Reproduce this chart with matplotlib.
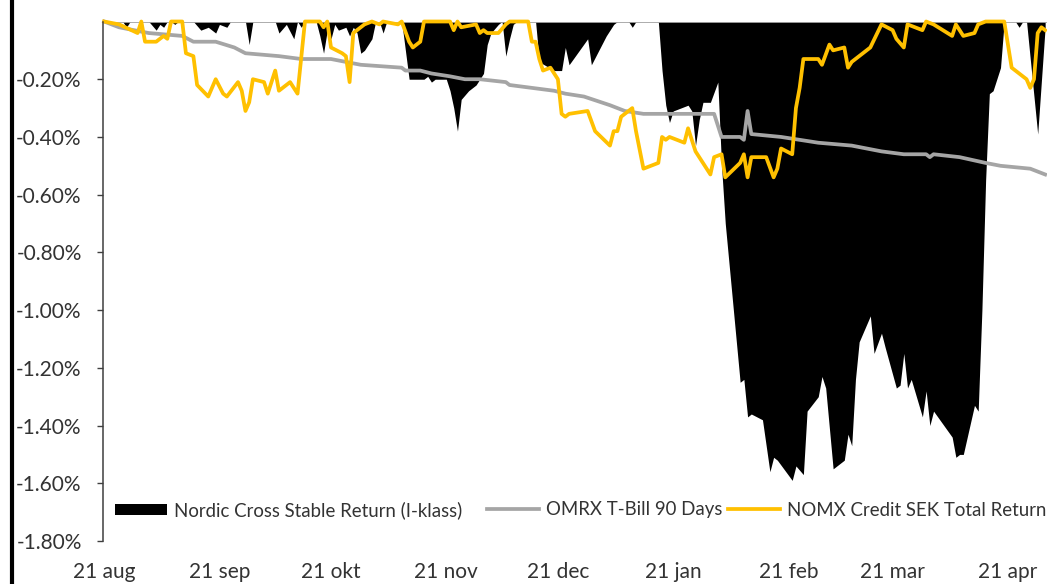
import matplotlib
matplotlib.use('Agg')
import matplotlib.pyplot as plt
from matplotlib.lines import Line2D
from matplotlib.legend import Legend
from matplotlib.ticker import FuncFormatter
import pandas as pd

plt.rcParams['font.family'] = ['Lato', 'DejaVu Sans']

START = pd.Timestamp('2020-08-21')

month_ticks = ['2020-08-21', '2020-09-21', '2020-10-21', '2020-11-21', '2020-12-21',
               '2021-01-21', '2021-02-21', '2021-03-21', '2021-04-21']
month_labels = ['21 aug', '21 sep', '21 okt', '21 nov', '21 dec',
                '21 jan', '21 feb', '21 mar', '21 apr']
y_ticks = [-1.8, -1.6, -1.4, -1.2, -1.0, -0.8, -0.6, -0.4, -0.2]

# Nordic Cross Stable Return (I-klass) - drawdown, % (days after 21 aug)
fund_day = [0, 1, 2, 3, 5, 6, 7, 12, 14, 15, 16, 17, 18, 19, 20, 24, 26, 28, 30, 31,
            33, 34, 38, 39, 40, 46, 47, 49, 51, 52, 53, 54, 57, 58, 59, 60, 61, 62, 63, 65,
            66, 67, 68, 69, 70, 71, 72, 73, 74, 75, 76, 80, 82, 86, 87, 88, 89, 92, 93, 94,
            95, 96, 98, 100, 102, 103, 104, 106, 107, 108, 109, 110, 111, 116, 117, 121, 123, 124, 125, 130,
            131, 135, 137, 138, 141, 142, 143, 149, 150, 151, 152, 153, 155, 157, 158, 159, 160, 161, 163, 165,
            166, 167, 171, 172, 173, 174, 177, 178, 179, 180, 181, 185, 186, 188, 189, 192, 193, 194, 196, 199,
            200, 201, 202, 203, 206, 207, 209, 210, 213, 214, 215, 216, 217, 220, 221, 222, 223, 228, 229, 230,
            231, 234, 235, 236, 237, 238, 239, 241, 242, 245, 246, 247, 248, 251, 253]
fund_dd = [0, 0, -0.01, 0, 0, -0.02, 0, 0, -0.03, -0.01, -0.02, 0, 0, -0.01, 0, 0, -0.03, -0.02, -0.04, -0.01,
           -0.02, 0, 0, -0.08, 0, 0, -0.04, -0.01, -0.06, 0, -0.02, 0, 0, -0.05, -0.11, -0.03, -0.06, -0.01, -0.03, -0.02,
           -0.05, -0.02, -0.04, -0.11, -0.10, -0.08, -0.06, 0, 0, -0.04, 0, 0, -0.20, -0.20, -0.19, -0.21, -0.20, -0.20, -0.24, -0.30,
           -0.38, -0.27, -0.24, -0.22, -0.18, -0.08, -0.04, -0.01, 0, -0.12, -0.06, -0.01, 0, 0, -0.14, -0.17, -0.17, -0.09, -0.15, -0.06,
           -0.15, -0.05, -0.01, 0, 0, -0.02, 0, 0, -0.17, -0.29, -0.35, -0.31, -0.30, -0.29, -0.31, -0.43, -0.34, -0.28, -0.28, -0.21,
           -0.50, -0.70, -1.25, -1.24, -1.37, -1.36, -1.38, -1.47, -1.56, -1.51, -1.52, -1.59, -1.54, -1.57, -1.35, -1.30, -1.23, -1.27, -1.55, -1.52,
           -1.43, -1.47, -1.24, -1.11, -1.02, -1.15, -1.08, -1.13, -1.27, -1.26, -1.15, -1.27, -1.24, -1.37, -1.28, -1.40, -1.35, -1.44, -1.51, -1.50,
           -1.50, -1.33, -1.35, -1.00, -0.55, -0.25, -0.24, -0.16, 0, 0, -0.02, 0, 0, -0.39, -0.02]

# OMRX T-Bill 90 Days
tbill_day = [0, 4, 12, 21, 24, 30, 35, 38, 47, 53, 61, 69, 80, 81, 85, 88, 93, 97, 101, 108,
             109, 115, 121, 124, 129, 136, 140, 145, 164, 166, 171, 172, 173, 174, 182, 187, 192, 201, 209, 215,
             221, 222, 223, 230, 237, 241, 249, 253]
tbill_dd = [0, -0.02, -0.04, -0.05, -0.07, -0.07, -0.09, -0.11, -0.12, -0.13, -0.13, -0.15, -0.16, -0.17, -0.17, -0.18, -0.19, -0.20, -0.20, -0.21,
            -0.22, -0.23, -0.24, -0.25, -0.26, -0.29, -0.31, -0.32, -0.32, -0.40, -0.40, -0.41, -0.31, -0.39, -0.40, -0.41, -0.42, -0.43, -0.45, -0.46,
            -0.46, -0.47, -0.46, -0.47, -0.49, -0.50, -0.51, -0.53]

# NOMX Credit SEK Total Return
credit_day = [0, 4, 9, 10, 11, 14, 16, 17, 18, 21, 22, 24, 25, 28, 30, 32, 33, 36, 37, 38,
              39, 40, 43, 44, 46, 47, 50, 52, 54, 58, 59, 60, 61, 64, 65, 66, 67, 70, 72, 74,
              75, 79, 80, 82, 83, 85, 86, 93, 94, 95, 96, 100, 101, 102, 103, 106, 108, 109, 114, 115,
              116, 117, 118, 120, 122, 123, 124, 125, 130, 132, 136, 137, 138, 139, 142, 143, 145, 149, 150, 151,
              152, 156, 157, 159, 163, 164, 166, 167, 171, 172, 173, 174, 178, 180, 181, 182, 185, 186, 187, 188,
              192, 193, 195, 196, 199, 200, 201, 206, 209, 212, 213, 215, 216, 220, 221, 223, 228, 229, 231, 234,
              235, 237, 242, 244, 246, 248, 249, 250, 251, 252, 253]
credit_dd = [0, -0.01, -0.04, 0, -0.07, -0.07, -0.05, -0.06, 0, 0, -0.11, -0.12, -0.22, -0.26, -0.20, -0.25, -0.26, -0.21, -0.24, -0.31,
             -0.28, -0.20, -0.21, -0.25, -0.17, -0.24, -0.21, -0.25, 0, 0, -0.02, 0, -0.09, -0.11, -0.12, -0.21, -0.04, -0.01, 0, -0.01,
             0, -0.01, 0, -0.07, -0.09, -0.07, 0, 0, -0.03, 0, -0.02, -0.01, -0.04, -0.03, -0.04, -0.04, -0.01, 0, 0, -0.07,
             -0.07, -0.13, -0.17, -0.16, -0.20, -0.32, -0.33, -0.32, -0.31, -0.38, -0.43, -0.38, -0.38, -0.33, -0.30, -0.38, -0.51, -0.49, -0.40, -0.41,
             -0.40, -0.42, -0.37, -0.45, -0.53, -0.47, -0.46, -0.54, -0.49, -0.46, -0.54, -0.47, -0.47, -0.54, -0.51, -0.44, -0.46, -0.30, -0.23, -0.13,
             -0.13, -0.15, -0.08, -0.10, -0.09, -0.16, -0.14, -0.09, -0.01, -0.03, -0.06, -0.09, -0.01, -0.03, 0, -0.01, -0.05, -0.01, -0.05, -0.04,
             -0.01, 0, 0, -0.16, -0.18, -0.20, -0.23, -0.20, -0.04, -0.02, -0.03]


def to_dates(days):
    return START + pd.to_timedelta(days, unit='D')


fig = plt.figure(figsize=(10.47, 5.84), dpi=100)
ax = fig.add_axes([103 / 1047, 1 - 541 / 584, 944 / 1047, (541 - 21.5) / 584])

h_fund = ax.fill_between(to_dates(fund_day), fund_dd, 0, color='black', lw=0,
                         label='Nordic Cross Stable Return (I-klass)')
h_tbill, = ax.plot(to_dates(tbill_day), tbill_dd, color='#A5A5A5', lw=2.7,
                   label='OMRX T-Bill 90 Days', clip_on=False)
h_credit, = ax.plot(to_dates(credit_day), credit_dd, color='#FFC000', lw=2.7,
                    label='NOMX Credit SEK Total Return', clip_on=False)

ax.axhline(0, color='#A6A6A6', lw=1.3, zorder=1.5)

ax.set_xlim(START - pd.Timedelta(days=0.3), START + pd.Timedelta(days=253.5))
ax.set_ylim(-1.8, 0)

ax.set_xticks(pd.to_datetime(month_ticks))
ax.set_xticklabels(month_labels)
ax.set_yticks(y_ticks)
ax.yaxis.set_major_formatter(FuncFormatter(lambda v, p: '%.2f%%' % v))

for s in ['top', 'right', 'bottom']:
    ax.spines[s].set_visible(False)
ax.spines['left'].set_color('#3F3F3F')
ax.spines['left'].set_linewidth(1.1)

ax.tick_params(axis='x', length=0, pad=15, labelsize=15, labelcolor='#333333')
ax.tick_params(axis='y', length=4.3, width=1, pad=11, color='#3F3F3F',
               labelsize=15, labelcolor='#333333')

# one legend per entry, placed where the reference puts them
leg_y = (541 - 510) / 519.5
for h, px in [(h_fund, 115), (h_tbill, 487), (h_credit, 728)]:
    leg = Legend(ax, [h], [h.get_label()], loc='center left',
                 bbox_to_anchor=((px - 103) / 944, leg_y),
                 frameon=False, fontsize=13.4, handlelength=2.8, handleheight=0.55,
                 handletextpad=0.35, borderaxespad=0, borderpad=0, labelcolor='#333333')
    ax.add_artist(leg)

# border line at the left side of the image
fig.add_artist(Line2D([12 / 1047, 12 / 1047], [0, 1], color='black', lw=3))

fig.savefig('out.png', dpi=100)
